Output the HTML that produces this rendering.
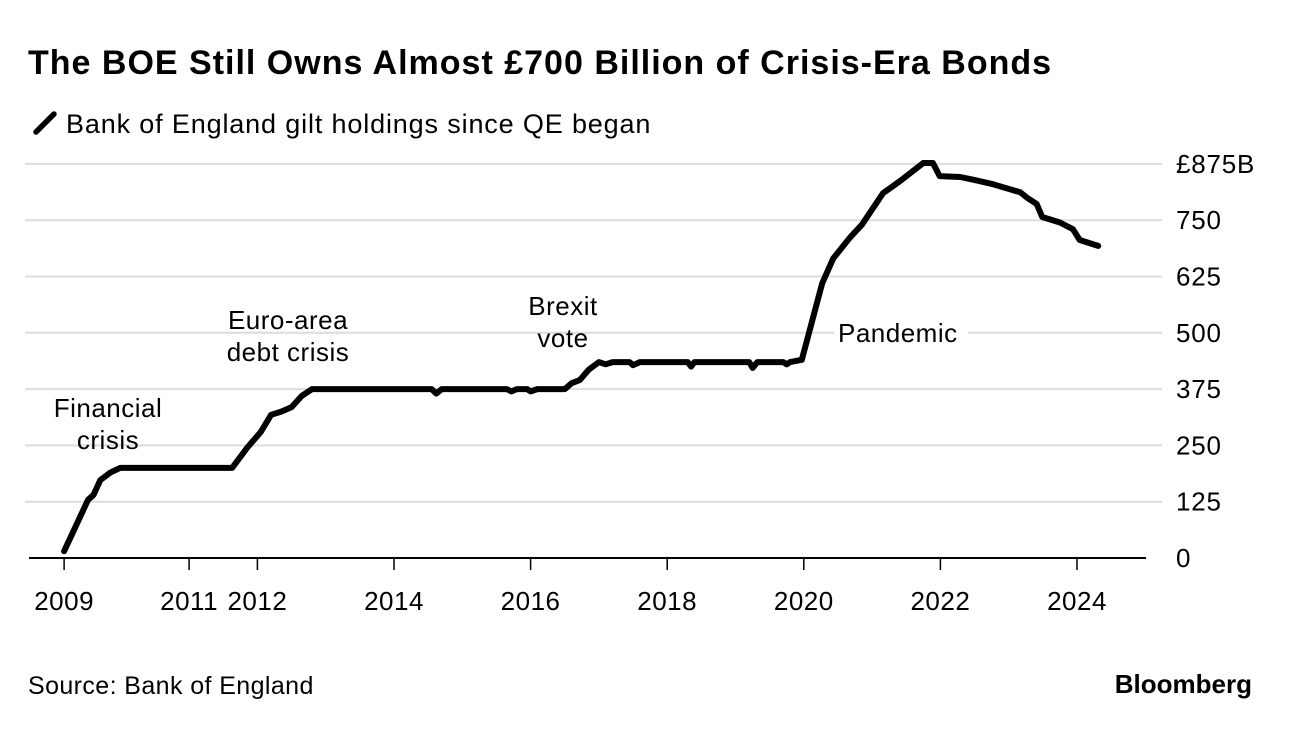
<!DOCTYPE html>
<html><head><meta charset="utf-8"><style>
body{margin:0;background:#fff;width:1292px;height:726px;overflow:hidden;font-family:"Liberation Sans",sans-serif}
svg text{font-family:"Liberation Sans",sans-serif}
</style></head><body>
<svg id="chart" width="1292" height="726">
<text x="28" y="74" font-size="34" font-weight="bold" letter-spacing="1.0" fill="#000">The BOE Still Owns Almost £700 Billion of Crisis-Era Bonds</text>
<line x1="36" y1="132" x2="54" y2="114" stroke="#000" stroke-width="5.5" stroke-linecap="round"/>
<text x="66" y="133" font-size="27" letter-spacing="0.85" fill="#000">Bank of England gilt holdings since QE began</text>
<g id="grid"></g><g id="axes"></g><g id="ann"></g><g id="series"></g>
<text x="28" y="694" font-size="25" letter-spacing="0.4" fill="#000">Source: Bank of England</text>
<text x="1252" y="693" font-size="26" font-weight="bold" text-anchor="end" fill="#000">Bloomberg</text>
</svg>
<script>
const yTicks=[0,125,250,375,500,625,750,875];
const yTickLabels=["0","125","250","375","500","625","750","£875B"];
const xTicks=[2009.17,2011,2012,2014,2016,2018,2020,2022,2024];
const xTickLabels=["2009","2011","2012","2014","2016","2018","2020","2022","2024"];
const years=[2009.17,2009.33,2009.52,2009.6,2009.7,2009.85,2009.99,2011.63,2011.85,2012.05,2012.2,2012.35,2012.5,2012.65,2012.8,2014.55,2014.62,2014.7,2015.65,2015.72,2015.8,2015.95,2016.0,2016.1,2016.5,2016.6,2016.72,2016.85,2017.0,2017.1,2017.2,2017.45,2017.5,2017.6,2018.3,2018.35,2018.4,2019.2,2019.25,2019.32,2019.7,2019.75,2019.8,2019.97,2020.27,2020.43,2020.68,2020.85,2021.16,2021.41,2021.75,2021.89,2021.99,2022.29,2022.48,2022.77,2023.17,2023.27,2023.41,2023.49,2023.75,2023.94,2024.04,2024.31];
const holdings=[15,67,129,140,173,190,200,200,245,280,318,325,335,360,375,375,365,375,375,370,375,375,370,375,375,388,395,418,435,430,435,435,428,435,435,425,435,435,422,435,435,430,435,440,610,665,712,740,810,837,877,877,848,846,840,830,812,800,786,757,745,730,706,693];
const annotations=[["Financial","crisis",108,417],["Euro-area","debt crisis",288,329],["Brexit","vote",563,315]];
const NS="http://www.w3.org/2000/svg";
const x=v=>394+(v-2014)*68.3;
const y=v=>558-v/125*56.3;
function mk(t,a,p){const e=document.createElementNS(NS,t);for(const k in a)e.setAttribute(k,a[k]);p.appendChild(e);return e;}
const grid=document.getElementById('grid'),axes=document.getElementById('axes'),ann=document.getElementById('ann'),ser=document.getElementById('series');
yTicks.forEach((v,i)=>{
 if(v>0){const g=mk('line',{x1:25,x2:1162,y1:y(v),y2:y(v),stroke:'#dcdcdc','stroke-width':2},grid);
 
 }
 const t=mk('text',{x:1176,y:y(v)+9,'font-size':26,'letter-spacing':0.8,fill:'#000'},axes);t.textContent=yTickLabels[i];
 
 
});
const ax=mk('line',{x1:29,x2:1146,y1:558,y2:558,stroke:'#000','stroke-width':2},axes);


xTicks.forEach((v,i)=>{
 const l=mk('line',{x1:x(v),x2:x(v),y1:558,y2:570,stroke:'#000','stroke-width':1.5},axes);
 
 
 const t=mk('text',{x:x(v),y:610,'font-size':26,'letter-spacing':0.5,'text-anchor':'middle',fill:'#000'},axes);t.textContent=xTickLabels[i];
 
 
});
annotations.forEach(a=>{
 [a[0],a[1]].forEach((s,j)=>{const t=mk('text',{x:a[2],y:a[3]+j*32,'font-size':26,'letter-spacing':0.5,'text-anchor':'middle',fill:'#000'},ann);t.textContent=s;
 
 });
});
mk('rect',{x:834,y:318,width:134,height:28,fill:'#fff'},ann);
const pt=mk('text',{x:838,y:342,'font-size':26,'letter-spacing':0.5,fill:'#000'},ann);pt.textContent="Pandemic";


const d=years.map((v,i)=>(i?'L':'M')+x(v).toFixed(1)+','+y(holdings[i]).toFixed(1)).join('');
const p=mk('path',{d:d,fill:'none',stroke:'#000','stroke-width':6,'stroke-linejoin':'round','stroke-linecap':'round'},ser);


</script>
</body></html>
